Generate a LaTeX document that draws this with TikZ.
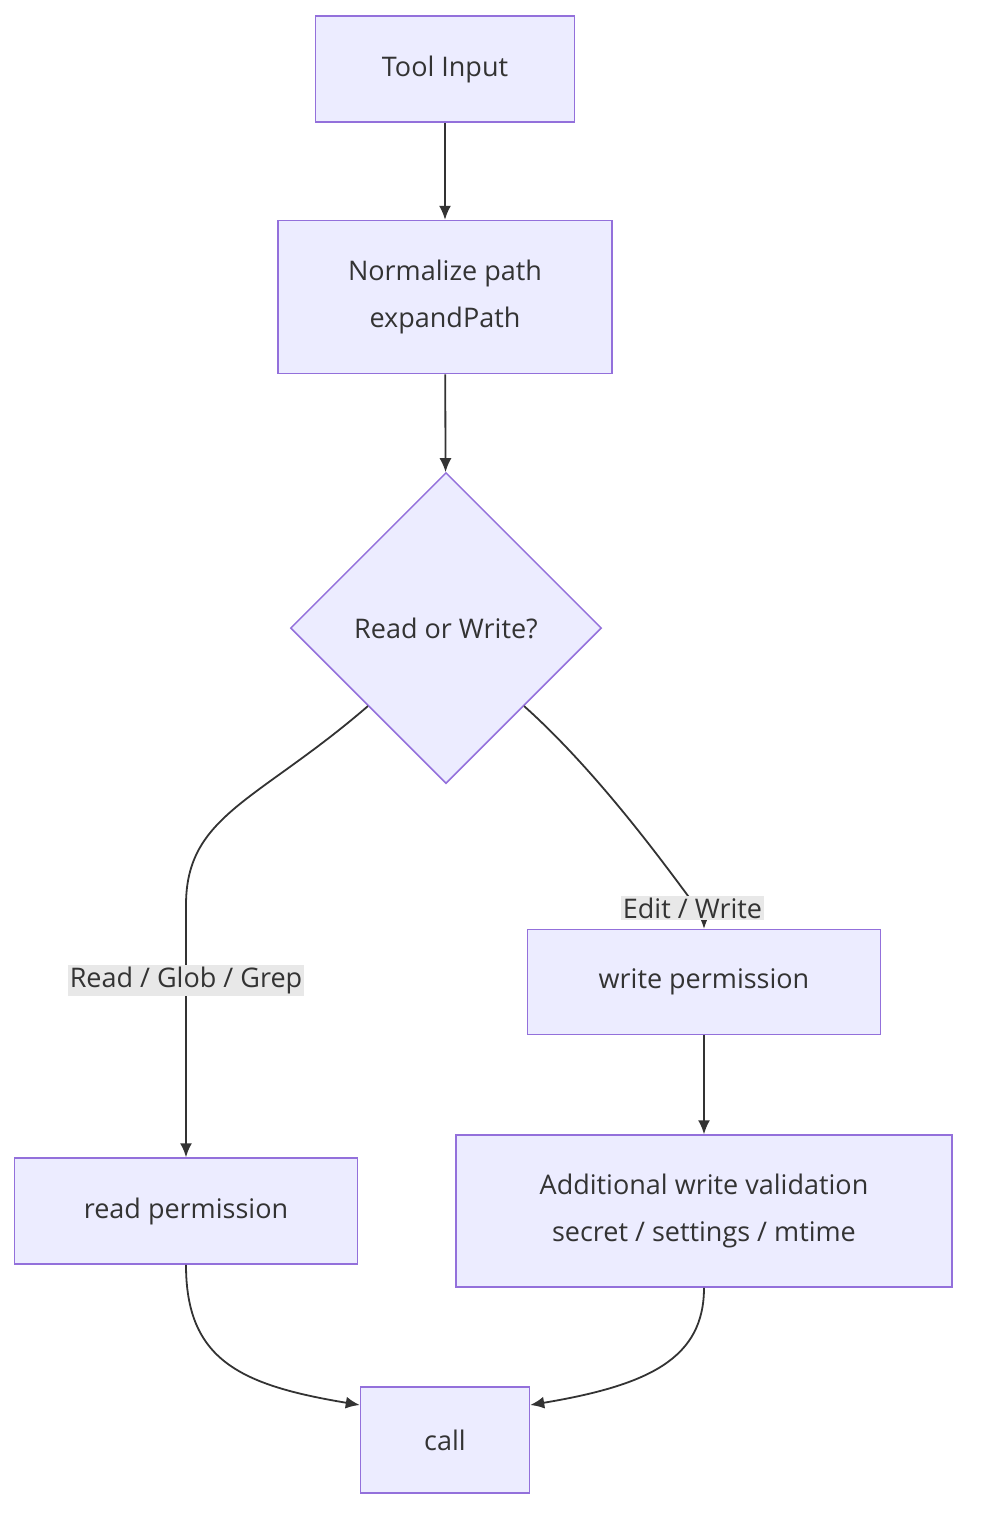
\documentclass[tikz,border=0pt]{standalone}
\usepackage{fontspec}
\setmainfont{Open Sans}
\usetikzlibrary{shapes.geometric,arrows.meta}
\definecolor{boxfill}{HTML}{ECECFF}
\definecolor{boxline}{HTML}{9370DB}
\definecolor{arrowcol}{HTML}{333333}
\definecolor{lblfill}{HTML}{E8E8E8}
\tikzset{x=1pt, y=-1pt, font=\fontsize{27}{47}\selectfont,
  block/.style={draw=boxline, fill=boxfill, line width=1.5pt, rectangle, align=center, text=arrowcol},
  decision/.style={draw=boxline, fill=boxfill, line width=1.5pt, diamond, aspect=1, minimum size=311pt, inner sep=0pt, text=arrowcol},
  arr/.style={draw=arrowcol, line width=1.8pt, -{Latex[length=14pt,width=12pt]}},
  lbl/.style={fill=lblfill, text=arrowcol, inner sep=2pt}}
\begin{document}
\begin{tikzpicture}
    \useasboundingbox (0,0) rectangle (984,1532);
    \node [block, minimum width=259pt, minimum height=106pt] (input) at (445,69) {Tool Input};
    \node [block, minimum width=334pt, minimum height=153pt] (norm) at (445,297) {Normalize path\\expandPath};
    \node [decision] (rw) at (446,628) {Read or Write?};
    \node [block, minimum width=353pt, minimum height=105pt] (wperm) at (704,982) {write permission};
    \node [block, minimum width=496pt, minimum height=152pt] (valid) at (704,1211) {Additional write validation\\secret / settings / mtime};
    \node [block, minimum width=343pt, minimum height=106pt] (rperm) at (186,1211) {read permission};
    \node [block, minimum width=169pt, minimum height=106pt] (call) at (445,1440) {call};
    \coordinate (rbend) at (186,905);
    \coordinate (wbend) at (704,905);

    \draw [arr] (input) -- (norm);
    \draw [arr] (norm) -- (rw);
    \draw [draw=arrowcol, line width=1.8pt] (rw.south west) .. controls +(-110,95) and +(0,-90) .. (rbend);
    \draw [arr] (rbend) -- node [lbl, pos=0.3] {Read / Glob / Grep} (rperm);
    \draw [arr] (rw.south east) .. controls +(95,85) and +(0,-60) .. node [lbl, pos=0.78] {Edit / Write} (wperm);
    \draw [arr] (wperm) -- (valid);
    \draw [arr] (rperm.south) .. controls +(0,95) and +(-120,-20) .. (call.north west |- 0,1405);
    \draw [arr] (valid.south) .. controls +(0,70) and +(120,-20) .. (call.north east |- 0,1405);
\end{tikzpicture}
\end{document}
